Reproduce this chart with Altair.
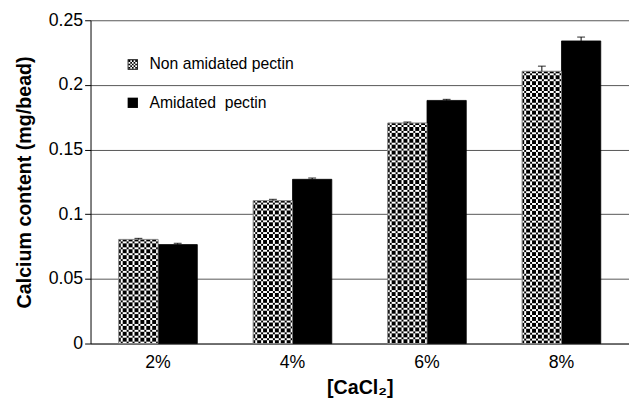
import urllib.parse
import altair as alt
import pandas as pd

categories = ["2%", "4%", "6%", "8%"]
groups = ["Non amidated pectin", "Amidated\u00a0 pectin"]
non_amidated = [0.0805, 0.1105, 0.1705, 0.2105]
amidated = [0.0765, 0.1270, 0.1880, 0.2340]
non_amidated_err = [0.0008, 0.0010, 0.0008, 0.0040]
amidated_err = [0.0010, 0.0010, 0.0008, 0.0030]

rows = []
for i, c in enumerate(categories):
    rows.append({"conc": c, "group": groups[0], "value": non_amidated[i], "err": non_amidated_err[i]})
    rows.append({"conc": c, "group": groups[1], "value": amidated[i], "err": amidated_err[i]})
df = pd.DataFrame(rows)
df["top"] = df["value"] + df["err"]
df["zero"] = 0.0
df["mid"] = df["value"] / 2

FONT = "Liberation Sans"

# checker pattern tile as an SVG image (texture for the non-amidated bars)
tile = ("<rect width='6' height='6' fill='white'/>"
        "<rect x='0' y='0' width='2' height='2' fill='black'/>"
        "<rect x='4' y='0' width='2' height='2' fill='black'/>"
        "<rect x='2' y='2' width='2' height='2' fill='black'/>"
        "<rect x='0' y='4' width='2' height='2' fill='black'/>"
        "<rect x='4' y='4' width='2' height='2' fill='black'/>")
svg = ("<svg xmlns='http://www.w3.org/2000/svg' width='100%' height='100%'>"
       "<defs><pattern id='p' width='6' height='6' patternUnits='userSpaceOnUse'>" + tile +
       "</pattern></defs><rect width='100%' height='100%' fill='url(#p)'/></svg>")
pattern_url = "data:image/svg+xml;charset=utf-8," + urllib.parse.quote(svg)

# legend symbol path: square ring with checker dots inside
cells = []
s = 0.32
for i in range(5):
    for j in range(5):
        if (i + j) % 2 == 0:
            x0 = -0.8 + i * s
            y0 = -0.8 + j * s
            cells.append(f"M{x0:.2f},{y0:.2f}h{s}v{s}h-{s}Z")
checker_path = "M-1,-1H1V1H-1Z M-0.84,-0.84V0.84H0.84V-0.84Z " + " ".join(cells)

x_enc = alt.X("conc:N", sort=categories, title="[CaCl₂]",
              scale=alt.Scale(paddingInner=0.416, paddingOuter=0.21),
              axis=alt.Axis(labelAngle=0, ticks=False, labelPadding=10, titlePadding=7,
                            labelFontSize=18, titleFontSize=20, titleFontWeight="bold",
                            domainColor="#333", labelColor="black", titleColor="black"))
xo = alt.XOffset("group:N", sort=groups, scale=alt.Scale(paddingInner=0, paddingOuter=0))
y_scale = alt.Scale(domain=[0, 0.25])
y_enc = alt.Y("value:Q", scale=y_scale, title="Calcium content (mg/bead)",
              axis=alt.Axis(values=[0, 0.05, 0.1, 0.15, 0.2, 0.25], format=".2~f",
                            tickSize=6, tickColor="black", domainColor="black",
                            labelFontSize=18, labelPadding=2, titleFontSize=20,
                            titleFontWeight="bold", titlePadding=14,
                            gridColor="#555", gridWidth=1, gridOpacity=1,
                            labelColor="black", titleColor="black"))

leg = alt.Legend(title=None, orient="none", legendX=35, legendY=37,
                 labelFontSize=16, labelFont=FONT, rowPadding=23,
                 symbolSize=110, symbolStrokeWidth=0, labelOffset=9,
                 labelColor="black")

base = alt.Chart(df)

legend_pts = base.mark_point(filled=True, opacity=1).encode(
    x=x_enc, xOffset=xo,
    y=alt.Y("mid:Q", scale=y_scale),
    fill=alt.Fill("group:N", sort=groups,
                  scale=alt.Scale(domain=groups, range=["#000000", "#000000"]),
                  legend=leg),
    shape=alt.Shape("group:N", sort=groups,
                    scale=alt.Scale(domain=groups, range=[checker_path, "square"]),
                    legend=leg),
)

bars = base.mark_bar(strokeWidth=0.8).encode(
    x=x_enc, xOffset=xo, y=y_enc,
    y2=alt.Y2("zero:Q"),
    fill=alt.condition(alt.datum.group == groups[1], alt.value("black"), alt.value("#6e6e6e")),
    stroke=alt.condition(alt.datum.group == groups[1], alt.value("black"), alt.value("#888")),
)

texture = base.transform_filter(alt.datum.group == groups[0]).mark_image(aspect=False).encode(
    x=x_enc, xOffset=xo,
    y=alt.Y("value:Q", scale=y_scale),
    y2=alt.Y2("zero:Q"),
    url=alt.value(pattern_url),
)

outline = base.transform_filter(alt.datum.group == groups[0]).mark_bar(
    fillOpacity=0, stroke="#888", strokeWidth=0.8).encode(
    x=x_enc, xOffset=xo,
    y=alt.Y("value:Q", scale=y_scale),
    y2=alt.Y2("zero:Q"),
)

err_rule = base.mark_rule(color="black", strokeWidth=1).encode(
    x=x_enc, xOffset=xo,
    y=alt.Y("value:Q", scale=y_scale),
    y2=alt.Y2("top:Q"),
)
err_cap = base.mark_tick(color="black", thickness=1.2, size=8, orient="horizontal").encode(
    x=x_enc, xOffset=xo,
    y=alt.Y("top:Q", scale=y_scale),
)

chart = alt.layer(legend_pts, bars, texture, outline, err_rule, err_cap).properties(
    width=548, height=329, padding={"left": 6, "top": 0, "right": 0, "bottom": 0}
).configure_view(stroke=None).configure_axis(
    labelFont=FONT, titleFont=FONT
).configure_axisX(grid=False).configure_axisY(grid=True).configure_legend(
    labelFont=FONT
)

chart.save("out.html", embed_options={"renderer": "svg", "actions": False})
